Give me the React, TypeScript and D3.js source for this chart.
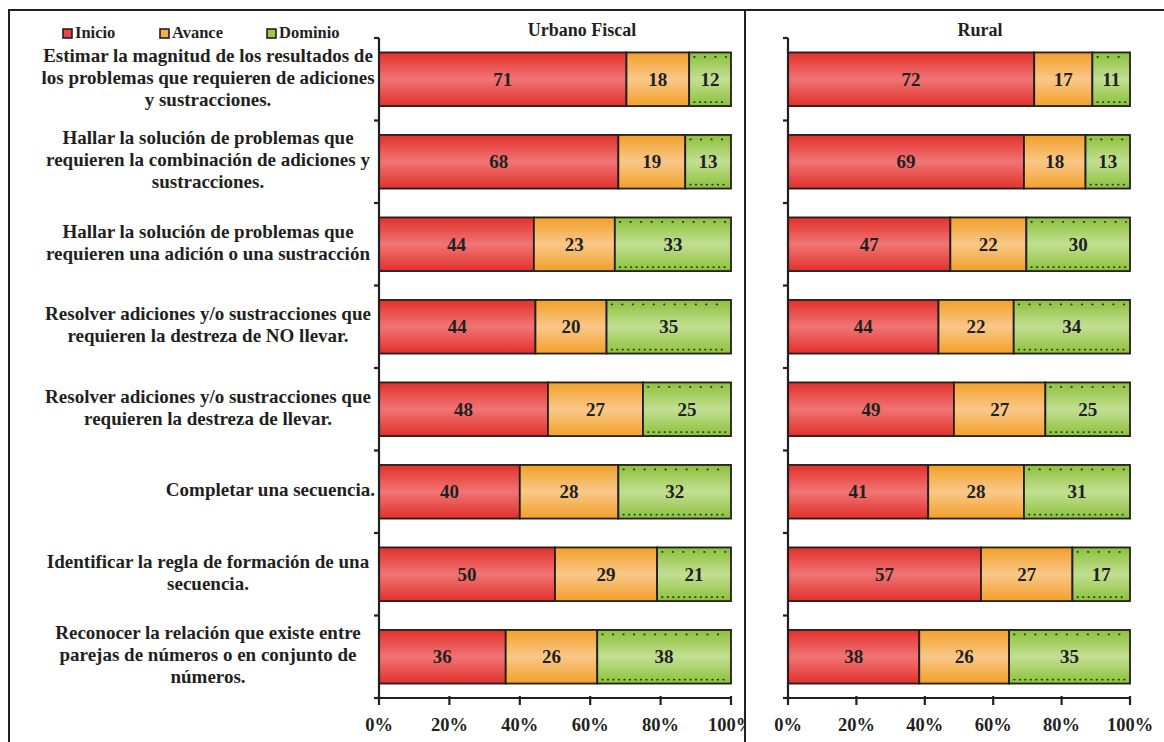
import React from "react";
import * as d3 from "d3";

const categories: string[][] = [
  ["Estimar la magnitud de los resultados de", "los problemas que requieren de adiciones", "y sustracciones."],
  ["Hallar la solución de problemas que", "requieren la combinación de adiciones y", "sustracciones."],
  ["Hallar la solución de problemas que", "requieren una adición o una sustracción"],
  ["Resolver adiciones y/o sustracciones que", "requieren la destreza de NO llevar."],
  ["Resolver adiciones y/o sustracciones que", "requieren la destreza de llevar."],
  ["Completar una secuencia."],
  ["Identificar la regla de formación de una", "secuencia."],
  ["Reconocer la relación que existe entre", "parejas de números o en conjunto de", "números."],
];

const seriesNames = ["Inicio", "Avance", "Dominio"];

const urbanoInicio = [71, 68, 44, 44, 48, 40, 50, 36];
const urbanoAvance = [18, 19, 23, 20, 27, 28, 29, 26];
const urbanoDominio = [12, 13, 33, 35, 25, 32, 21, 38];

const ruralInicio = [72, 69, 47, 44, 49, 41, 57, 38];
const ruralAvance = [17, 18, 22, 22, 27, 28, 27, 26];
const ruralDominio = [11, 13, 30, 34, 25, 31, 17, 35];

const panelTitles = ["Urbano Fiscal", "Rural"];
const xTicks = [0, 20, 40, 60, 80, 100];

const FONT = "'Liberation Serif', 'Times New Roman', serif";
const INK = "#231f20";

const gradIds = ["gInicio", "gAvance", "gDominio"];
const gradStops = [
  ["#e2302a", "#f07575", "#e2302a"],
  ["#f2a027", "#f9c88a", "#f2a027"],
  ["#8cc13a", "#c3df93", "#8cc13a"],
];
const legendFill = ["#e8474a", "#f6ad4a", "#9ccb45"];

type Panel = { title: string; x0: number; x1: number; data: number[][]; axisExt: number; titleShift: number; clip: string };

export default function App() {
  const W = 1164;
  const H = 742;
  const yTop = 38;
  const yBot = 698;
  const y = d3
    .scaleBand<number>()
    .domain(categories.map((_, i) => i))
    .range([yTop, yBot])
    .paddingInner(0.35)
    .paddingOuter(0.175);

  const panels: Panel[] = [
    { title: panelTitles[0], x0: 379, x1: 731, data: [urbanoInicio, urbanoAvance, urbanoDominio], axisExt: 5, titleShift: 27, clip: "url(#clipLeft)" },
    { title: panelTitles[1], x0: 788, x1: 1130, data: [ruralInicio, ruralAvance, ruralDominio], axisExt: 0, titleShift: 21, clip: "" },
  ];

  const step = y.step();

  const renderPanel = (p: Panel, pi: number) => {
    const x = d3.scaleLinear().domain([0, 100]).range([p.x0, p.x1]);
    return (
      <g key={pi} clipPath={p.clip || undefined}>
        <text x={(p.x0 + p.x1) / 2 + p.titleShift} y={36} textAnchor="middle" fontFamily={FONT} fontWeight="bold" fontSize={18} fill={INK}>
          {p.title}
        </text>
        {categories.map((_, i) => {
          const vals = p.data.map((s) => s[i]);
          const total = d3.sum(vals);
          const by = y(i)!;
          const bh = y.bandwidth();
          let acc = 0;
          return (
            <g key={i}>
              {vals.map((v, s) => {
                const a = acc / total;
                acc += v;
                const b = acc / total;
                const xa = x(a * 100);
                const xb = x(b * 100);
                return (
                  <g key={s}>
                    <rect x={xa} y={by} width={xb - xa} height={bh} fill={`url(#${gradIds[s]})`} stroke={INK} strokeWidth={1.8} />
                    {s === 2 && (
                      <>
                        <line x1={xa + 5} x2={xb - 4} y1={by + 4.5} y2={by + 4.5} stroke="#1e3a10" strokeWidth={1.7} strokeDasharray="0.5 10" strokeLinecap="round" />
                        <line x1={xa + 5} x2={xb - 4} y1={by + bh - 4} y2={by + bh - 4} stroke="#1e3a10" strokeWidth={1.7} strokeDasharray="0.5 5" strokeLinecap="round" />
                      </>
                    )}
                    <text x={(xa + xb) / 2} y={by + bh / 2 + 6.5} textAnchor="middle" fontFamily={FONT} fontWeight="bold" fontSize={19} fill={INK}>
                      {v}
                    </text>
                  </g>
                );
              })}
            </g>
          );
        })}
        {/* y axis */}
        <line x1={p.x0} x2={p.x0} y1={yTop} y2={yBot} stroke={INK} strokeWidth={2.2} />
        {d3.range(categories.length + 1).map((k) => {
          const ty = yTop + k * step;
          return <line key={k} x1={p.x0 - 5} x2={p.x0} y1={ty} y2={ty} stroke={INK} strokeWidth={2.2} />;
        })}
        {/* x axis */}
        <line x1={p.x0 - p.axisExt} x2={p.x1} y1={yBot} y2={yBot} stroke={INK} strokeWidth={2.2} />
        {xTicks.map((t) => (
          <g key={t}>
            <line x1={x(t)} x2={x(t)} y1={yBot - 2} y2={yBot + 7} stroke={INK} strokeWidth={2.2} />
            <text x={x(t)} y={731} textAnchor="middle" fontFamily={FONT} fontWeight="bold" fontSize={18.5} fill={INK}>
              {t}%
            </text>
          </g>
        ))}
      </g>
    );
  };

  const legendX = [63, 160, 267];

  return (
    <svg width={W} height={H} style={{ position: "absolute", left: 0, top: 0, background: "#fff" }}>
      <defs>
        {gradIds.map((id, k) => (
          <linearGradient key={id} id={id} x1="0" y1="0" x2="0" y2="1">
            <stop offset="0%" stopColor={gradStops[k][0]} />
            <stop offset="50%" stopColor={gradStops[k][1]} />
            <stop offset="100%" stopColor={gradStops[k][2]} />
          </linearGradient>
        ))}
        <clipPath id="clipLeft">
          <rect x={0} y={0} width={745} height={H} />
        </clipPath>
      </defs>
      <rect x={0} y={0} width={W} height={H} fill="#fff" />
      {/* frame */}
      <line x1={8} x2={W} y1={10} y2={10} stroke={INK} strokeWidth={2} />
      <line x1={9} x2={9} y1={10} y2={H} stroke={INK} strokeWidth={2} />
      {/* legend */}
      {seriesNames.map((n, k) => (
        <g key={n}>
          <rect x={legendX[k]} y={29} width={9} height={9} fill={legendFill[k]} stroke={INK} strokeWidth={1.6} />
          <text x={legendX[k] + 12} y={38} fontFamily={FONT} fontWeight="bold" fontSize={16.5} fill={INK}>
            {n}
          </text>
        </g>
      ))}
      {/* category labels */}
      {categories.map((lines, i) => {
        const cy = y(i)! + y.bandwidth() / 2;
        const lh = 21.8;
        const start = cy - ((lines.length - 1) * lh) / 2 + 4.5;
        const single = lines.length === 1;
        return (
          <text key={i} textAnchor={single ? "end" : "middle"} fontFamily={FONT} fontWeight="bold" fontSize={19} fill={INK}>
            {lines.map((l, j) => (
              <tspan key={j} x={single ? 375 : 208} y={start + j * lh}>
                {l}
              </tspan>
            ))}
          </text>
        );
      })}
      {panels.map(renderPanel)}
      <line x1={745} x2={745} y1={10} y2={H} stroke={INK} strokeWidth={2} />
    </svg>
  );
}
